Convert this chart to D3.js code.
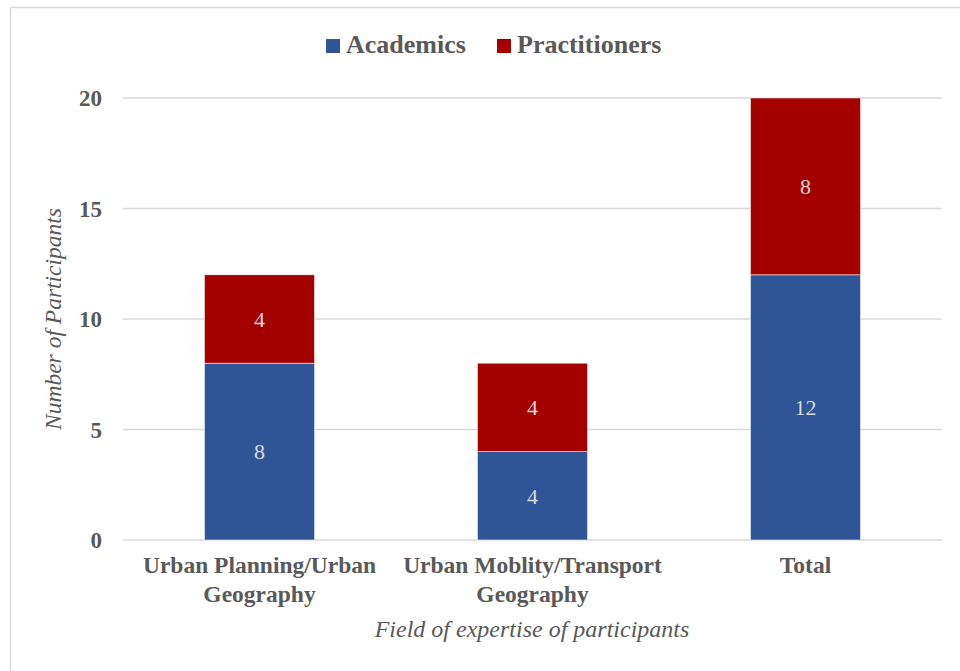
<!DOCTYPE html>
<html>
<head>
<meta charset="utf-8">
<script src="https://cdn.jsdelivr.net/npm/d3@7"></script>
<style>
  body { margin: 0; background: #fff; }
  svg text { font-family: 'Liberation Serif', 'DejaVu Serif', serif; }
</style>
</head>
<body>
<svg id="chart" width="960" height="671"></svg>
<script>
const categories = [["Urban Planning/Urban", "Geography"], ["Urban Moblity/Transport", "Geography"], ["Total"]]
const categoryKeys = ["planning", "mobility", "total"]
const academics = [8, 4, 12]
const practitioners = [4, 4, 8]
const seriesNames = ["Academics", "Practitioners"]
const yTicks = [0, 5, 10, 15, 20]

const colors = { "Academics": "#2F5597", "Practitioners": "#A50000" }
const textGray = "#595959"
const gridColor = "#D9D9D9"
const fontFam = "'Liberation Serif', 'DejaVu Serif', serif"

const svg = d3.select("#chart")

// outer frame
svg.append("rect")
	.attr("x", 10.5).attr("y", 7.5)
	.attr("width", 960).attr("height", 680)
	.style("fill", "none").style("stroke", gridColor).style("stroke-width", 1.5)

const x = d3.scaleBand()
	.domain(categoryKeys)
	.range([123, 942])
	.paddingInner(0.597)
	.paddingOuter(0.2985)

const y = d3.scaleLinear()
	.domain([0, 20])
	.range([540, 98])

// gridlines
svg.append("g").selectAll("line")
	.data(yTicks)
	.enter().append("line")
		.attr("x1", 123).attr("x2", 942)
		.attr("y1", d => y(d)).attr("y2", d => y(d))
		.style("stroke", gridColor).style("stroke-width", 1.5)

// y tick labels
svg.append("g").selectAll("text")
	.data(yTicks)
	.enter().append("text")
		.attr("x", 102)
		.attr("y", d => y(d))
		.attr("dy", "0.35em")
		.attr("text-anchor", "end")
		.attr("font-family", fontFam)
		.style("font-size", "23px").style("font-weight", "bold")
		.style("fill", textGray)
		.text(d => d)

// stacked data
const rows = categoryKeys.map((k, i) => ({ key: k, Academics: academics[i], Practitioners: practitioners[i] }))
const stacked = d3.stack().keys(seriesNames)(rows)

const layers = svg.append("g").selectAll("g")
	.data(stacked)
	.enter().append("g")
		.style("fill", d => colors[d.key])

layers.selectAll("rect")
	.data(d => d)
	.enter().append("rect")
		.attr("x", d => x(d.data.key))
		.attr("y", d => y(d[1]))
		.attr("width", x.bandwidth())
		.attr("height", d => y(d[0]) - y(d[1]))
		.style("stroke", "#ffffff").style("stroke-width", 0.75).style("stroke-opacity", 0.7)

layers.selectAll("text")
	.data(d => d)
	.enter().append("text")
		.attr("x", d => x(d.data.key) + x.bandwidth() / 2)
		.attr("y", d => (y(d[0]) + y(d[1])) / 2)
		.attr("dy", "0.35em")
		.attr("text-anchor", "middle")
		.attr("font-family", fontFam)
		.style("font-size", "22px")
		.style("fill", "#D9D9D9")
		.text(d => d[1] - d[0])

// x category labels
const xl = svg.append("g").selectAll("text")
	.data(categoryKeys)
	.enter().append("text")
		.attr("x", d => x(d) + x.bandwidth() / 2)
		.attr("y", 573)
		.attr("text-anchor", "middle")
		.attr("font-family", fontFam)
		.style("font-size", "23.5px").style("font-weight", "bold")
		.style("fill", textGray)

xl.selectAll("tspan")
	.data((d, i) => categories[i])
	.enter().append("tspan")
		.attr("x", function() { return this.parentNode.getAttribute("x") })
		.attr("dy", (d, i) => i === 0 ? 0 : 29)
		.text(d => d)

// axis titles
svg.append("text")
	.attr("x", 532).attr("y", 637)
	.attr("text-anchor", "middle")
	.attr("font-family", fontFam)
	.style("font-size", "24px").style("font-style", "italic")
	.style("fill", textGray)
	.text("Field of expertise of participants")

svg.append("text")
	.attr("transform", "translate(61," + ((y(0) + y(20)) / 2) + ") rotate(-90)")
	.attr("text-anchor", "middle")
	.attr("font-family", fontFam)
	.style("font-size", "23.5px").style("font-style", "italic")
	.style("fill", textGray)
	.text("Number of Participants")

// legend
const legendX = [326, 497]
const legend = svg.append("g").selectAll("g")
	.data(seriesNames)
	.enter().append("g")
		.attr("transform", (d, i) => "translate(" + legendX[i] + ",0)")
legend.append("rect")
	.attr("x", 0).attr("y", 39)
	.attr("width", 14).attr("height", 14)
	.style("fill", d => colors[d])
legend.append("text")
	.attr("x", 20).attr("y", 53)
	.attr("font-family", fontFam)
	.style("font-size", "26px").style("font-weight", "bold")
	.style("fill", textGray)
	.text(d => d)
</script>
</body>
</html>
